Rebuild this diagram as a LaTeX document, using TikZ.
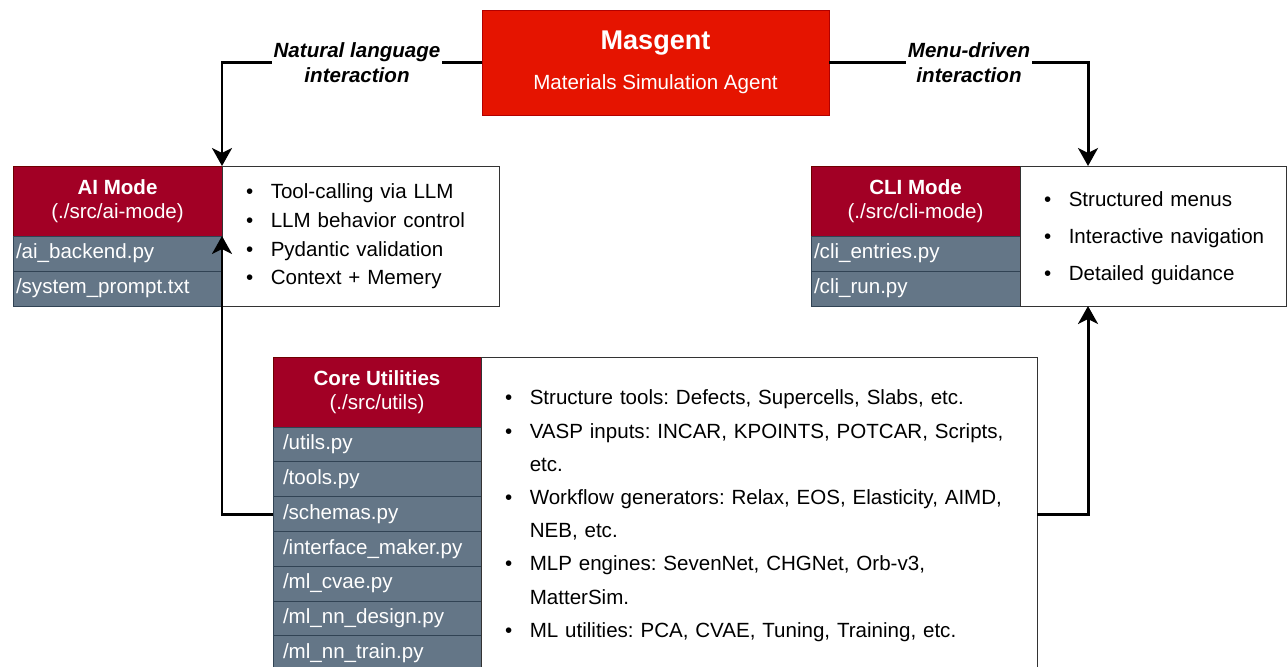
\documentclass[tikz,border=0pt]{standalone}
\usepackage{fontspec}
\setmainfont{Liberation Sans}
\usetikzlibrary{arrows.meta,positioning}
\frenchspacing

\newlength{\unitpx}
\setlength{\unitpx}{0.02cm}

\definecolor{agentred}{HTML}{E51400}
\definecolor{agentline}{HTML}{B20000}
\definecolor{headred}{HTML}{A20025}
\definecolor{headline}{HTML}{6F0000}
\definecolor{rowslate}{HTML}{647687}
\definecolor{rowline}{HTML}{314354}
\definecolor{descline}{HTML}{333333}

\newcommand{\itemrows}[2]{{\def\arraystretch{#1}\begin{tabular}{@{}l@{\hspace{10pt}}l@{}}#2\end{tabular}}}

\tikzset{
  agentbox/.style={draw=agentline, fill=agentred, text=white, align=center,
    minimum width=347\unitpx, minimum height=105\unitpx},
  headbox/.style={draw=headline, fill=headred, text=white, align=center, inner sep=0pt, outer sep=0pt,
    minimum width=209\unitpx, minimum height=70\unitpx},
  filerow/.style={draw=rowline, fill=rowslate, text=white, align=left, outer sep=0pt,
    inner xsep=3\unitpx, inner ysep=0pt, text width=203\unitpx, minimum height=35\unitpx},
  corerow/.style={filerow, inner xsep=10\unitpx, text width=188\unitpx, minimum height=34.8\unitpx},
  descbox/.style={draw=descline, fill=white, align=left, inner xsep=24\unitpx, outer sep=0pt, anchor=north west},
  conn/.style={line width=1.7pt, -{Stealth[length=0.36cm, width=0.4cm, inset=0.1cm]}},
  lbl/.style={fill=white, font=\fontsize{11.7}{14.2}\selectfont\bfseries\itshape, align=center,
    inner xsep=2\unitpx, inner ysep=1pt}
}

\begin{document}
\begin{tikzpicture}[x=0.02cm, y=-0.02cm, font=\fontsize{11.7}{14}\selectfont]
    \path[use as bounding box] (0,0) rectangle (1287,666);
    \clip (0,0) rectangle (1287,666);

    \node[agentbox] (masgent) at (655.5,62.5)
      {{\fontsize{15.4}{18}\selectfont\bfseries Masgent}\\[9pt]Materials Simulation Agent};

    \node[headbox] (aihead) at (117.5,201) {\textbf{AI Mode}\\(./src/ai-mode)};
    \node[filerow, below=0pt of aihead] (aibackend) {/ai\_backend.py};
    \node[filerow, below=0pt of aibackend] (aiprompt) {/system\_prompt.txt};
    \node[descbox, text width=229\unitpx, minimum height=140\unitpx] (aidesc) at (aihead.north east)
      {\itemrows{1.164}{\textbullet & Tool-calling via LLM\\ \textbullet & LLM behavior control\\
        \textbullet & Pydantic validation\\ \textbullet & Context + Memery}};

    \node[headbox] (clihead) at (915.5,201) {\textbf{CLI Mode}\\(./src/cli-mode)};
    \node[filerow, below=0pt of clihead] (clientries) {/cli\_entries.py};
    \node[filerow, below=0pt of clientries] (clirun) {/cli\_run.py};
    \node[descbox, text width=218\unitpx, minimum height=140\unitpx] (clidesc) at (clihead.north east)
      {\itemrows{1.5}{\textbullet & Structured menus\\ \textbullet & Interactive navigation\\
        \textbullet & Detailed guidance}};

    \node[headbox, minimum width=208\unitpx] (corehead) at (377,392) {\textbf{Core Utilities}\\(./src/utils)};
    \node[corerow, below=0pt of corehead] (utilsrow) {/utils.py};
    \node[corerow, below=0pt of utilsrow] (toolsrow) {/tools.py};
    \node[corerow, below=0pt of toolsrow] (schemasrow) {/schemas.py};
    \node[corerow, below=0pt of schemasrow] (interfacerow) {/interface\_maker.py};
    \node[corerow, below=0pt of interfacerow] (cvaerow) {/ml\_cvae.py};
    \node[corerow, below=0pt of cvaerow] (designrow) {/ml\_nn\_design.py};
    \node[corerow, below=0pt of designrow] (trainrow) {/ml\_nn\_train.py};
    \node[descbox, text width=508\unitpx, minimum height=315\unitpx] (coredesc) at (corehead.north east)
      {\itemrows{1.35}{\textbullet & Structure tools: Defects, Supercells, Slabs, etc.\\
        \textbullet & VASP inputs: INCAR, KPOINTS, POTCAR, Scripts,\\ & etc.\\
        \textbullet & Workflow generators: Relax, EOS, Elasticity, AIMD,\\ & NEB, etc.\\
        \textbullet & MLP engines: SevenNet, CHGNet, Orb-v3,\\ & MatterSim.\\
        \textbullet & ML utilities: PCA, CVAE, Tuning, Training, etc.}};

    \coordinate (rjoin) at (1088,0);

    \draw[conn] (masgent.west) -| node[lbl, pos=0.24] {Natural language\\interaction} (aihead.north east);
    \draw[conn] (masgent.east) -| node[lbl, pos=0.27] {Menu-driven\\interaction} (rjoin |- clidesc.north);
    \draw[conn] (schemasrow.west) -| (aihead.south east);
    \draw[conn] (coredesc.east |- schemasrow) -| (rjoin |- clidesc.south);
\end{tikzpicture}
\end{document}
